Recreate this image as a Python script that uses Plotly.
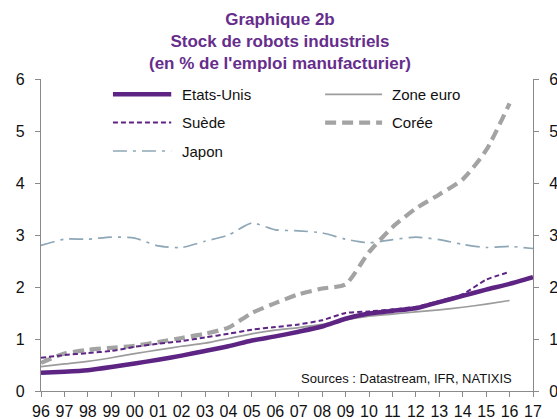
import plotly.graph_objects as go

years = ['96','97','98','99','00','01','02','03','04','05','06','07','08','09','10','11','12','13','14','15','16','17']

etats_unis = [0.35,0.37,0.40,0.46,0.53,0.60,0.68,0.77,0.86,0.97,1.05,1.14,1.24,1.39,1.49,1.54,1.59,1.71,1.83,1.95,2.06,2.19]
zone_euro = [0.47,0.52,0.57,0.64,0.72,0.79,0.86,0.92,1.01,1.10,1.17,1.22,1.28,1.37,1.44,1.48,1.52,1.56,1.61,1.67,1.74,None]
suede = [0.64,0.69,0.73,0.77,0.85,0.91,0.96,1.03,1.10,1.18,1.23,1.28,1.36,1.50,1.53,1.57,1.62,1.73,1.86,2.14,2.29,None]
coree = [0.54,0.72,0.79,0.83,0.87,0.94,1.02,1.10,1.22,1.50,1.69,1.86,1.97,2.05,2.67,3.15,3.51,3.78,4.07,4.63,5.53,None]
japon = [2.80,2.92,2.92,2.96,2.94,2.79,2.76,2.88,3.00,3.23,3.10,3.08,3.04,2.92,2.85,2.91,2.96,2.91,2.82,2.76,2.78,2.74]

y_ticks = [0,1,2,3,4,5,6]

PURPLE = '#5E2483'
TITLE_PURPLE = '#662D8C'
GRAY_K = '#A3A3A3'
GRAY_E = '#9C9C9C'
BLUE_J = '#8DA7B7'
AXIS = '#8A8A8A'
FONT = 'Liberation Sans, Arial, sans-serif'

series = [
    ('Japon', japon, dict(color=BLUE_J, width=1.7, dash='14px,6px,3px,6px')),
    ('Zone euro', zone_euro, dict(color=GRAY_E, width=1.7)),
    ('Corée', coree, dict(color=GRAY_K, width=4.2, dash='11px,6px')),
    ('Suède', suede, dict(color=PURPLE, width=2, dash='5px,3px')),
    ('Etats-Unis', etats_unis, dict(color=PURPLE, width=4.5)),
]

fig = go.Figure()
for name, vals, ln in series:
    fig.add_trace(go.Scatter(x=years, y=vals, name=name, mode='lines',
                             line=dict(shape='spline', smoothing=0.6, **ln),
                             showlegend=False, hoverinfo='skip'))

# transparent trace carrying the right-hand axis
fig.add_trace(go.Scatter(x=years, y=etats_unis, yaxis='y2', mode='lines',
                         line=dict(width=1, color='rgba(0,0,0,0)'), showlegend=False, hoverinfo='skip'))

W, H = 557, 419
PL, PR, PT, PB = 40.7, 533.0, 78.7, 390.7   # plot area in pixels
L, R, T, B = PL, W - PR, PT, H - PB
pw = PR - PL
ph = PB - PT

def px(x):
    return (x - PL) / pw

def py(y):
    return (PB - y) / ph

tickfont = dict(family=FONT, size=16, color='#111111')
axis_common = dict(showgrid=False, zeroline=False, showline=True, linecolor=AXIS, linewidth=1.3,
                   ticks='outside', ticklen=5, tickcolor=AXIS, tickwidth=1.3, automargin=False,
                   tickfont=tickfont)

fig.update_layout(
    width=W, height=H,
    margin=dict(l=L, r=R, t=T, b=B, pad=0),
    plot_bgcolor='white', paper_bgcolor='white',
    font=dict(family=FONT),
    showlegend=False,
    xaxis=dict(type='category', range=[0, len(years) - 1], tickvals=years, ticktext=years,
               ticklabelstandoff=1, **axis_common),
    yaxis=dict(range=[0, 6], tickvals=y_ticks, ticklabelstandoff=7, **axis_common),
    yaxis2=dict(range=[0, 6], tickvals=y_ticks, overlaying='y', side='right', anchor='x',
                ticklabelstandoff=7, **axis_common),
)

# Title
fig.add_annotation(text='Graphique 2b<br>Stock de robots industriels<br>(en % de l\'emploi manufacturier)',
                   xref='paper', yref='paper', x=px(279.5), y=py(41.7), xanchor='center', yanchor='middle',
                   showarrow=False, font=dict(family=FONT, size=17, color=TITLE_PURPLE, weight='bold'))

# Legend (drawn in paper coords)
legend_items = [
    ('Etats-Unis', 112.7, 171, 180, 94, dict(color=PURPLE, width=4.5)),
    ('Zone euro', 325, 382, 390, 94, dict(color=GRAY_E, width=1.7)),
    ('Suède', 112.7, 171, 180, 122.3, dict(color=PURPLE, width=2, dash='5px,3px')),
    ('Corée', 325, 382, 390, 122.3, dict(color=GRAY_K, width=4.2, dash='11px,6px')),
    ('Japon', 112.7, 171, 180, 150.7, dict(color=BLUE_J, width=1.7, dash='14px,6px,3px,6px')),
]
for name, x0, x1, xt, yy, ln in legend_items:
    fig.add_shape(type='line', xref='paper', yref='paper', x0=px(x0), x1=px(x1), y0=py(yy), y1=py(yy),
                  line=ln)
    fig.add_annotation(text=name, xref='paper', yref='paper', x=px(xt), y=py(yy), xanchor='left',
                       yanchor='middle', showarrow=False,
                       font=dict(family=FONT, size=15, color='#111111'))

fig.add_annotation(text='Sources : Datastream, IFR, NATIXIS', xref='paper', yref='paper',
                   x=px(514), y=py(378), xanchor='right', yanchor='middle', showarrow=False,
                   font=dict(family=FONT, size=13, color='#111111'))

fig.write_html('out.html', config={'displayModeBar': False},
               post_script="document.body.style.margin='0';document.body.style.overflow='hidden';")
